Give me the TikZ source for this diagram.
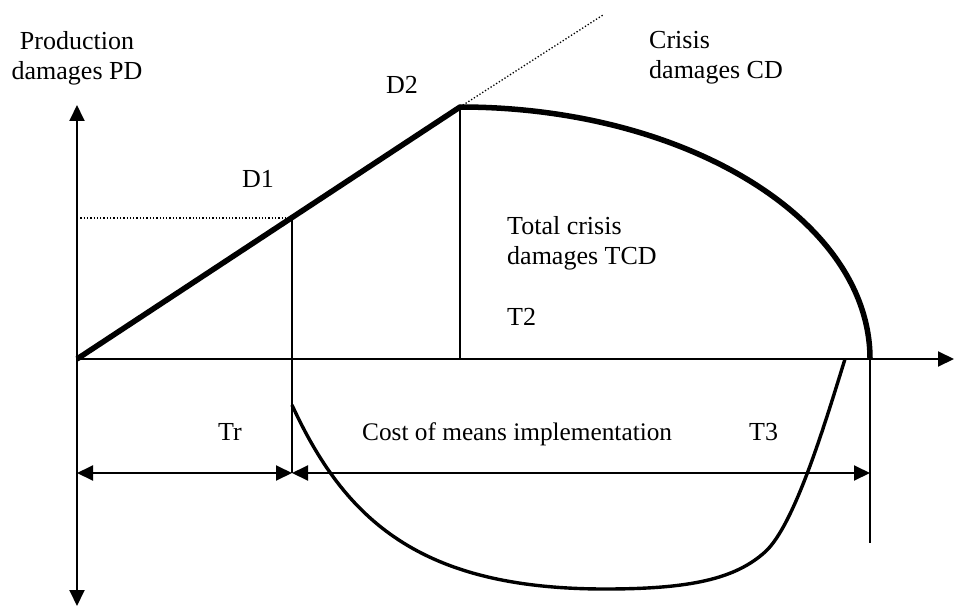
\documentclass[tikz,border=0pt]{standalone}
\usepackage{fontspec}
\setmainfont{Liberation Serif}
\usetikzlibrary{arrows.meta}
\begin{document}
\begin{tikzpicture}[x=1pt,y=-1pt,
  thinline/.style={line width=1.9pt},
  thickline/.style={line width=5.5pt,line join=round},
  costline/.style={line width=3.4pt},
  dotline/.style={line width=1.3pt,dotted},
  tip/.style={-{Triangle[length=16pt,width=15pt]}},
  dimline/.style={line width=1.9pt,{Triangle[length=16pt,width=15pt]}-{Triangle[length=16pt,width=15pt]}},
  lbl/.style={font=\fontsize{26}{30.5}\selectfont,inner sep=0pt,align=left}]
\useasboundingbox (0,0) rectangle (955,607);
% coordinates
\coordinate (O) at (77,359);
\coordinate (Ytop) at (77,105);
\coordinate (Ybot) at (77,606);
\coordinate (Xend) at (954,359);
\coordinate (D1) at (292,218);
\coordinate (D1y) at (77,218);
\coordinate (D2) at (460,107);
\coordinate (Dx) at (603,15);
\coordinate (E) at (870,359);
\coordinate (D2b) at (460,359);
\coordinate (Eb) at (870,543);
\coordinate (L0) at (77,473);
\coordinate (L1) at (292,473);
\coordinate (L2) at (870,473);
\coordinate (C0) at (292,405);
\coordinate (C2) at (605,589);
\coordinate (C3) at (765,552);
\coordinate (C4) at (845,359);
% axes
\draw[thinline,{Triangle[length=16pt,width=15pt]}-{Triangle[length=16pt,width=15pt]}] (Ybot) -- (Ytop);
\draw[thinline,tip] (O) -- (Xend);
% verticals
\draw[thinline] (D1) -- (L1);
\draw[thinline] (D2) -- (D2b);
\draw[thinline] (E) -- (Eb);
% dotted
\draw[dotline] (D1y) -- (D1);
\draw[dotline] (D2) -- (Dx);
% thick damage line and crisis curve
\draw[thickline] (O) -- (D2) .. controls (686,107) and (870,220) .. (E);
% cost curve
\draw[costline] (C0) .. controls (345,520) and (420,589) .. (C2)
  .. controls (690,589) and (735,579) .. (C3)
  .. controls (795,525) and (826,420) .. (C4);
% dimension lines
\draw[dimline] (L0) -- (L1);
\draw[dimline] (L1) -- (L2);
% labels
\node[lbl,anchor=north,align=center] (pd) at (77,31) {Production\\damages PD};
\node[lbl,anchor=base west] (d1) at (242,187) {D1};
\node[lbl,anchor=base west] (d2) at (386,94) {D2};
\node[lbl,anchor=north west] (cd) at (649,31) {Crisis\\damages CD};
\node[lbl,anchor=north west] (tcd) at (507,216) {Total crisis\\damages TCD};
\node[lbl,anchor=base west] (t2) at (507,325) {T2};
\node[lbl,anchor=base west] (tr) at (218,440) {Tr};
\node[lbl,anchor=base west,font=\fontsize{25.3}{30}\selectfont] (cost) at (362,440) {Cost of means implementation};
\node[lbl,anchor=base west] (t3) at (749,440) {T3};
\end{tikzpicture}
\end{document}
